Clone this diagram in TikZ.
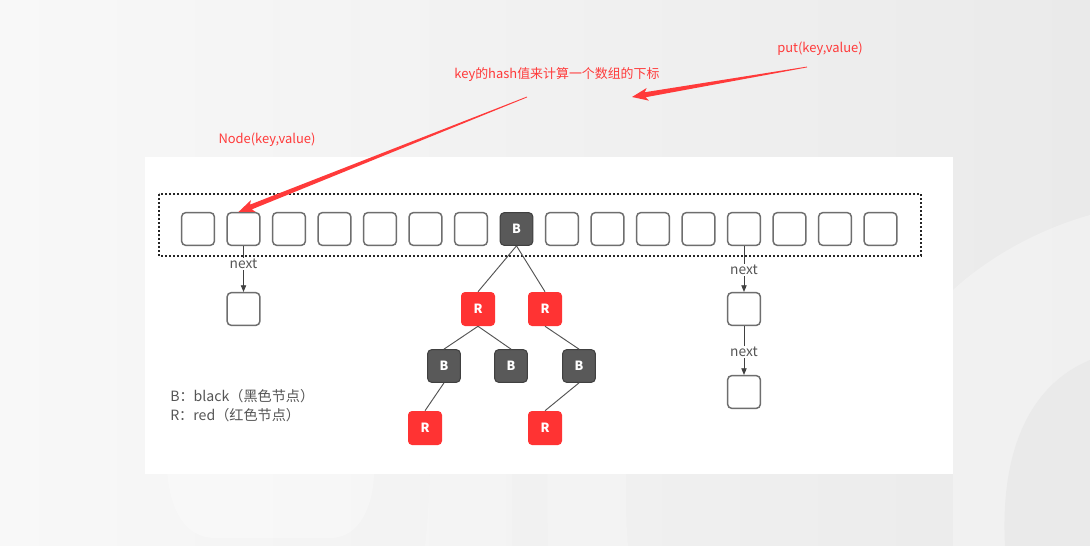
\documentclass[tikz,border=0pt]{standalone}
\usepackage{fontspec}
\setmainfont{Noto Sans CJK SC}
\usetikzlibrary{calc,arrows.meta}
\definecolor{annot}{HTML}{FF3A3A}
\definecolor{cellgray}{HTML}{6E6E6E}
\definecolor{darkfill}{HTML}{595959}
\definecolor{darkline}{HTML}{404040}
\definecolor{redfill}{HTML}{FF3333}
\definecolor{txtgray}{HTML}{555555}
\definecolor{bgl}{HTML}{F8F8F8}
\definecolor{bgr}{HTML}{EAEAEA}
\newcommand\redarrow[2]{%
  \coordinate (hh) at ($(#2)!12pt!(#1)$);
  \coordinate (hb) at ($(#2)!10pt!(#1)$);
  \fill[annot] ($(#1)!0.3pt!90:(#2)$) -- ($(hb)!1.9pt!-90:(#1)$) -- ($(hh)!4.8pt!-90:(#1)$) -- (#2)
     -- ($(hh)!4.8pt!90:(#1)$) -- ($(hb)!1.9pt!90:(#1)$) -- ($(#1)!0.3pt!-90:(#2)$) -- cycle;
}
\begin{document}
\begin{tikzpicture}[x=0.75pt,y=-0.75pt,
  cell/.style={draw=cellgray,fill=white,line width=1.1pt,rounded corners=3pt,minimum size=24.5pt,inner sep=0pt},
  bnode/.style={draw=darkline,fill=darkfill,line width=0.8pt,rounded corners=3pt,minimum size=24.5pt,inner sep=0pt,text=white,font=\fontsize{9.5}{10}\selectfont\bfseries},
  rnode/.style={fill=redfill,rounded corners=3pt,minimum size=25.5pt,inner sep=0pt,text=white,font=\fontsize{9.5}{10}\selectfont\bfseries},
  nextlbl/.style={text=txtgray,font=\fontsize{10.3}{11}\selectfont,inner sep=1pt},
  link/.style={draw=darkline,line width=0.7pt},
  tedge/.style={draw=darkline!90,line width=0.7pt},
  annotxt/.style={text=annot,font=\fontsize{9.7}{11}\selectfont,inner sep=0pt},
  legend/.style={text=txtgray,font=\fontsize{10.6}{14.5}\selectfont,align=left,anchor=north west,inner sep=0pt}
]
\useasboundingbox (0,0) rectangle (1090,546);
% background
\shade[left color=bgl,right color=bgr] (0,0) rectangle (1090,546);
\fill[white,opacity=0.3] (167,430) -- (167,470) .. controls (170,510) and (185,538) .. (215,538) -- (330,538) .. controls (360,538) and (374,505) .. (374,470) -- (374,430) -- cycle;
\fill[white,opacity=0.2] (430,430) -- (512,430) -- (512,546) -- (425,546) .. controls (428,520) and (430,490) .. (430,430) -- cycle;
\fill[white,opacity=0.2] (548,430) -- (628,430) .. controls (625,470) and (625,510) .. (628,546) -- (548,546) .. controls (547,510) and (547,470) .. (548,430) -- cycle;
\fill[white,opacity=0.3] (1090,215) .. controls (1020,235) and (975,270) .. (953,290) -- (953,546) -- (1090,546) -- cycle;
\fill[bgr] (1090,360) .. controls (1030,385) and (1000,450) .. (1005,546) -- (1090,546) -- cycle;
% panel
\fill[white] (145,157) rectangle (953,474);
% dotted array frame
\draw[black!85,line width=1.4pt,dash pattern=on 1.3pt off 1.7pt] (159,194) rectangle (921,256);
% array cells
\foreach \i in {0,1,2,3,4,5,6,8,9,10,11,12,13,14,15}
  \node[cell] (c\i) at ({198+45.5*\i},229) {};
\node[bnode] (c7) at (516.5,229) {B};
% chain at cell 1
\node[nextlbl] (nx1) at (243.5,264) {next};
\node[cell] (n1) at (243.5,309) {};
\draw[link] (c1.south) -- (nx1.north);
\draw[link,-{Triangle[length=5pt,width=4pt]}] (nx1.south) -- (n1.north);
% chain at cell 12
\node[nextlbl] (nx2) at (744,270) {next};
\node[cell] (n2) at (744,309) {};
\node[nextlbl] (nx3) at (744,352) {next};
\node[cell] (n3) at (744,392) {};
\draw[link] (c12.south) -- (nx2.north);
\draw[link,-{Triangle[length=5pt,width=4pt]}] (nx2.south) -- (n2.north);
\draw[link] (n2.south) -- (nx3.north);
\draw[link,-{Triangle[length=5pt,width=4pt]}] (nx3.south) -- (n3.north);
% red-black tree
\node[rnode] (r1) at (478,309) {R};
\node[rnode] (r2) at (545,309) {R};
\node[bnode] (b1) at (444,366) {B};
\node[bnode] (b2) at (511,366) {B};
\node[bnode] (b3) at (579,366) {B};
\node[rnode] (r3) at (425,428) {R};
\node[rnode] (r4) at (545,428) {R};
\draw[tedge] (c7.south) -- (r1.north);
\draw[tedge] (c7.south) -- (r2.north);
\draw[tedge] (r1.south) -- (b1.north);
\draw[tedge] (r1.south) -- (b2.north);
\draw[tedge] (r2.south) -- (b3.north);
\draw[tedge] (b1.south) -- (r3.north);
\draw[tedge] (b3.south) -- (r4.north);
% legend
\node[legend] (leg) at (170,389) {B：black（黑色节点）\\R：red（红色节点）};
% annotations
\node[annotxt] (put) at (820,49) {put(key,value)};
\node[annotxt] (hash) at (557,75) {key的hash值来计算一个数组的下标};
\node[annotxt] (nodekv) at (267,140) {Node(key,value)};
\coordinate (a1s) at (807,67);
\coordinate (a1e) at (632,97);
\coordinate (a2s) at (527,97);
\coordinate (a2e) at ($(c1.north)+(-5,0)$);
\redarrow{a1s}{a1e}
\redarrow{a2s}{a2e}
\end{tikzpicture}
\end{document}
